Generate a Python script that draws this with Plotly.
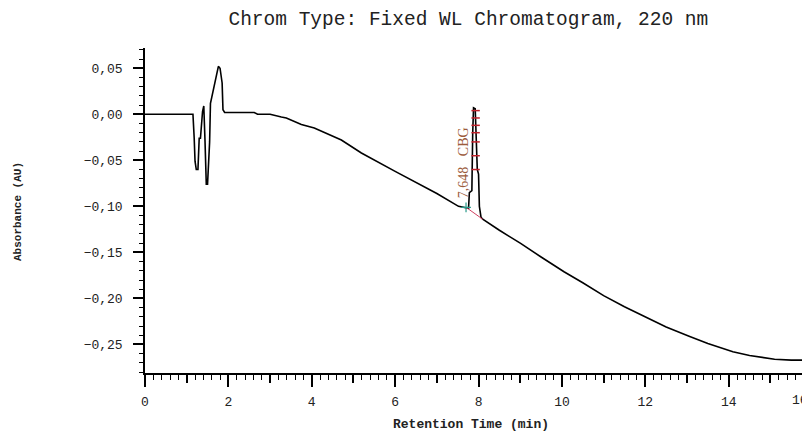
import plotly.graph_objects as go

# Retention time (min) and absorbance (AU)
time_min = [0, 1.15, 1.18, 1.20, 1.23, 1.27, 1.30, 1.33, 1.38, 1.41, 1.44, 1.47, 1.50, 1.55,
            1.57, 1.61, 1.64, 1.72, 1.76, 1.80, 1.85, 1.87, 1.91, 2.03, 2.62, 2.70, 3.00,
            3.27, 3.39, 3.75, 4.06, 4.71, 5.19, 6.00, 6.47, 7.00, 7.52, 7.70, 7.76, 7.78,
            7.84, 7.86, 7.88, 7.92, 7.97, 8.00, 8.02, 8.06, 8.10, 8.50, 9.00, 9.50, 10.05,
            10.50, 11.00, 11.50, 12.10, 12.50, 13.05, 13.50, 14.10, 14.50, 15.10, 15.50, 16.00]
absorbance = [0, 0, -0.026, -0.051, -0.060, -0.060, -0.026, -0.026, 0.003, 0.009, -0.030,
              -0.076, -0.076, -0.030, 0.012, 0.021, 0.026, 0.042, 0.052, 0.050, 0.034, 0.005,
              0.002, 0.002, 0.002, 0.0, 0.0, -0.003, -0.004, -0.011, -0.015, -0.028, -0.042,
              -0.062, -0.073, -0.086, -0.100, -0.101, -0.102, -0.085, -0.083, -0.02, 0.007,
              0.006, -0.060, -0.065, -0.100, -0.112, -0.114, -0.126, -0.140, -0.155, -0.171,
              -0.183, -0.197, -0.209, -0.222, -0.231, -0.241, -0.249, -0.258, -0.262, -0.266,
              -0.267, -0.267]

# Peak integration baseline and markers
baseline_t = [7.70, 8.10]
baseline_a = [-0.101, -0.114]
peak_mark_t = [7.93, 7.93, 7.93, 7.93, 7.93, 7.93, 7.93]
peak_mark_a = [0.004, -0.004, -0.012, -0.020, -0.030, -0.045, -0.060]
peak_label = "7,648   CBG"
peak_label_t = 7.63
peak_label_a = -0.053

x_range = [0, 15.95]
y_range = [-0.281, 0.072]
x_ticks = [0, 2, 4, 6, 8, 10, 12, 14]

mono = "Liberation Mono"

fig = go.Figure()
fig.add_trace(go.Scatter(x=time_min, y=absorbance, mode="lines",
                         line=dict(color="black", width=1.6), showlegend=False))
fig.add_trace(go.Scatter(x=baseline_t, y=baseline_a, mode="lines",
                         line=dict(color="#d04060", width=1), showlegend=False))
fig.add_trace(go.Scatter(x=peak_mark_t, y=peak_mark_a, mode="markers",
                         marker=dict(symbol="line-ew", size=6, line=dict(color="#c0202a", width=1.5)),
                         showlegend=False))
fig.add_trace(go.Scatter(x=[baseline_t[0]], y=[baseline_a[0]], mode="markers",
                         marker=dict(symbol="cross-thin", size=7, line=dict(color="#2a9a8a", width=1.2)),
                         showlegend=False))
# overlay axis for the 1-min ticks
fig.add_trace(go.Scatter(x=[], y=[], xaxis="x2", showlegend=False, hoverinfo="skip"))

fig.add_annotation(x=peak_label_t, y=peak_label_a, text=peak_label, textangle=-90,
                   showarrow=False, font=dict(family="Liberation Serif", size=14, color="#9c5b3c"))
fig.add_annotation(x=1.0, xref="paper", xanchor="right", y=-27 / 325.0, yref="paper",
                   yanchor="middle", text="16", showarrow=False,
                   font=dict(family=mono, size=13, color="#222222"))
# axis titles
fig.add_annotation(x=(471 - 145) / 665.0, xref="paper", xanchor="center", y=-51 / 325.0,
                   yref="paper", yanchor="middle", text="<b>Retention Time (min)</b>",
                   showarrow=False, font=dict(family=mono, size=13, color="#222222"))
fig.add_annotation(x=(18 - 145) / 665.0, xref="paper", xanchor="center",
                   y=(373 - 212) / 325.0, yref="paper", yanchor="middle",
                   text="<b>Absorbance (AU)</b>", showarrow=False, textangle=-90,
                   font=dict(family=mono, size=11, color="#222222"))

# the page places the figure 8 px from the top-left corner
fig.update_layout(
    width=802, height=429,
    margin=dict(l=137, r=0, t=40, b=64),
    paper_bgcolor="white", plot_bgcolor="white",
    separators=",.",
    title=dict(text="Chrom Type: Fixed WL Chromatogram, 220 nm", x=0.574, xanchor="center",
               y=0.977, yanchor="middle",
               font=dict(family=mono, size=19.5, color="#222222")),
    xaxis=dict(range=x_range, tickvals=x_ticks, ticks="outside", ticklen=12, tickwidth=1.5,
               tickcolor="black", showline=True, linecolor="black", linewidth=1.5,
               showgrid=False, zeroline=False, ticklabelstandoff=4, automargin=False,
               tickfont=dict(family=mono, size=13, color="#222222"),
               minor=dict(dtick=0.2, tick0=0, ticks="outside", ticklen=5, tickwidth=1.2,
                          tickcolor="black", showgrid=False)),
    xaxis2=dict(range=x_range, overlaying="x", anchor="y", side="bottom", dtick=1, tick0=0,
                ticks="outside", ticklen=9, tickwidth=1.5, tickcolor="black", automargin=False,
                showticklabels=False, showgrid=False, zeroline=False, showline=False),
    yaxis=dict(range=y_range, dtick=0.05, tick0=0, tickformat=".2f", ticks="outside",
               ticklen=10, tickwidth=1.5, tickcolor="black", showline=True,
               linecolor="black", linewidth=1.5, showgrid=False, zeroline=False,
               ticklabelstandoff=8, automargin=False,
               tickfont=dict(family=mono, size=13, color="#222222"),
               minor=dict(dtick=0.01, tick0=0, ticks="outside", ticklen=4, tickwidth=1.2,
                          tickcolor="black", showgrid=False)),
)

fig.write_html("out.html")
